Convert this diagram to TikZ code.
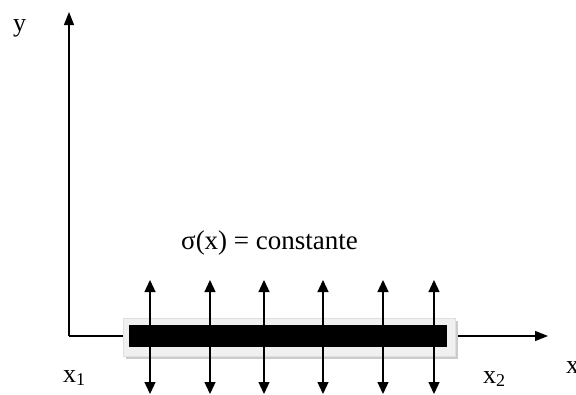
\documentclass[tikz,border=0pt]{standalone}
\usepackage{fontspec}
\setmainfont{Liberation Serif}
\usetikzlibrary{arrows.meta}
\begin{document}
\begin{tikzpicture}[x=1pt,y=-1pt,
  axis/.style={line width=1.3pt,-{Triangle[length=13pt,width=10pt]}},
  force/.style={line width=1.3pt,{Triangle[length=12pt,width=11pt]}-{Triangle[length=12pt,width=11pt]}},
  lbl/.style={inner sep=0pt,font=\fontsize{26}{30}\selectfont},
  frame/.style={fill=gray!12,draw=gray!25,line width=0.6pt},
  shadow/.style={fill=gray!40},
  beam/.style={fill=black}]
\useasboundingbox (0,0) rectangle (576,394);
\coordinate (O) at (69,336);
\coordinate (ytip) at (69,12);
\coordinate (xtip) at (548,336);
\draw[axis] (O) -- (ytip);
\draw[axis] (O) -- (xtip);
% beam with frame
\fill[shadow] (126,321) rectangle (458,359);
\draw[frame] (123,318) rectangle (455,356);
\fill[beam] (129,325) rectangle (447,347);
% forces
\foreach \i/\xx in {1/150,2/210,3/264,4/323,5/383,6/434}{
  \coordinate (t\i) at (\xx,280);
  \coordinate (b\i) at (\xx,394);
  \draw[force] (t\i) -- (b\i);
}
% labels
\node[lbl,anchor=base west] (ylab) at (13,31) {y};
\node[lbl,anchor=base west] (xlab) at (566,373) {x};
\node[lbl,anchor=base west] (x1) at (63,382) {x\raisebox{-3pt}{\fontsize{18}{18}\selectfont 1}};
\node[lbl,anchor=base west] (x2) at (483,383) {x\raisebox{-3pt}{\fontsize{18}{18}\selectfont 2}};
\node[lbl,anchor=base west,font=\fontsize{27}{30}\selectfont] (sig) at (181,249) {σ(x) = constante};
\end{tikzpicture}
\end{document}
